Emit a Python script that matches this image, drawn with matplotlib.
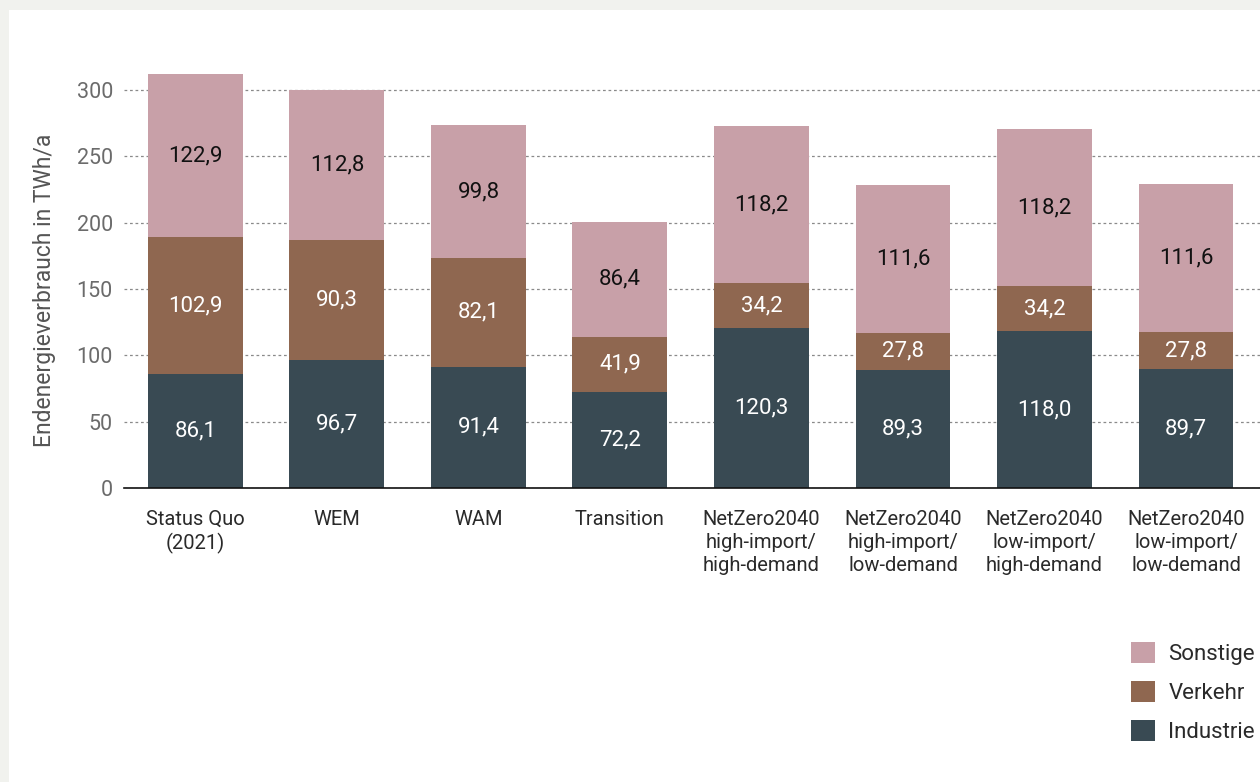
import matplotlib
matplotlib.use("Agg")
import matplotlib.pyplot as plt
from matplotlib.patches import Rectangle, Patch

categories = ["Status Quo\n(2021)", "WEM", "WAM", "Transition",
              "NetZero2040\nhigh-import/\nhigh-demand",
              "NetZero2040\nhigh-import/\nlow-demand",
              "NetZero2040\nlow-import/\nhigh-demand",
              "NetZero2040\nlow-import/\nlow-demand"]
industrie = [86.1, 96.7, 91.4, 72.2, 120.3, 89.3, 118.0, 89.7]
verkehr = [102.9, 90.3, 82.1, 41.9, 34.2, 27.8, 34.2, 27.8]
sonstige = [122.9, 112.8, 99.8, 86.4, 118.2, 111.6, 118.2, 111.6]
yticks = [0, 50, 100, 150, 200, 250, 300]

c_ind = "#394a53"
c_ver = "#8f6750"
c_son = "#c8a0a8"

plt.rcParams['font.family'] = ['Roboto', 'DejaVu Sans']

W, H = 1260, 782
fig = plt.figure(figsize=(W / 100, H / 100), dpi=100)
fig.patch.set_facecolor("#f1f2ee")
fig.patches.append(Rectangle((9 / W, 0), 1 - 9 / W, 1 - 10 / H,
                             transform=fig.transFigure, facecolor="white",
                             edgecolor="none", zorder=-10))

ax = fig.add_axes([124 / W, (H - 488) / H, 1 - 124 / W, (488 - 63.5) / H])
ax.set_facecolor("none")
ax.set_zorder(1)

x = list(range(len(categories)))
bw = 0.671
bottom2 = [a + b for a, b in zip(industrie, verkehr)]
b1 = ax.bar(x, industrie, bw, color=c_ind, zorder=3)
b2 = ax.bar(x, verkehr, bw, bottom=industrie, color=c_ver, zorder=3)
b3 = ax.bar(x, sonstige, bw, bottom=bottom2, color=c_son, zorder=3)

fmt = lambda v: f"{v:.1f}".replace(".", ",")
ax.bar_label(b1, labels=[fmt(v) for v in industrie], label_type="center",
             color="white", fontsize=16, zorder=4)
ax.bar_label(b2, labels=[fmt(v) for v in verkehr], label_type="center",
             color="white", fontsize=16, zorder=4)
ax.bar_label(b3, labels=[fmt(v) for v in sonstige], label_type="center",
             color="#111111", fontsize=16, zorder=4)

ax.set_xlim(-0.505, 7.523)
ax.set_ylim(0, 320)
ax.set_yticks(yticks)
ax.set_yticklabels([str(t) for t in yticks], color="#6b6b6b", fontsize=15.5)
ax.set_xticks(x)
ax.set_xticklabels(categories, fontsize=14.5, color="#2a2a2a", linespacing=1.25,
                   va="top")
ax.tick_params(axis="both", length=0)
ax.tick_params(axis="y", pad=8)
ax.tick_params(axis="x", pad=16)
ax.yaxis.grid(True, linestyle=(0, (2.2, 2.2)), color="#8a8a8a", linewidth=0.9,
              zorder=1)
ax.set_axisbelow(True)
for s in ["top", "right", "left"]:
    ax.spines[s].set_visible(False)
ax.spines["bottom"].set_color("#111111")
ax.spines["bottom"].set_linewidth(1.2)
ax.spines["bottom"].set_zorder(5)

fig.text(45 / W, 1 - 290 / H, "Endenergieverbrauch in TWh/a", rotation=90,
         ha="center", va="center", fontsize=16.5, color="#555555")

handles = [Patch(facecolor=c_son, label="Sonstige"),
           Patch(facecolor=c_ver, label="Verkehr"),
           Patch(facecolor=c_ind, label="Industrie")]
leg = fig.legend(handles=handles, loc="upper left",
                 bbox_to_anchor=(1131 / W, 1 - 642 / H),
                 frameon=False, fontsize=16, handlelength=1.08,
                 handleheight=1.08, handletextpad=0.6, labelspacing=0.72,
                 borderaxespad=0, borderpad=0)
for t in leg.get_texts():
    t.set_color("#2a2a2a")

fig.savefig("out.png", dpi=100, facecolor=fig.get_facecolor())
